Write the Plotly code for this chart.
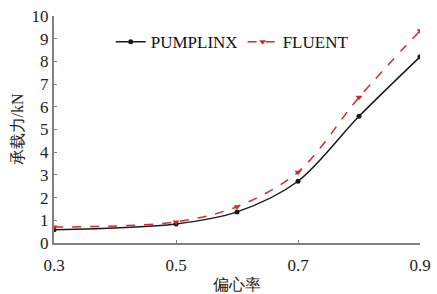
import plotly.graph_objects as go

ecc = [0.3, 0.5, 0.6, 0.7, 0.8, 0.9]
pumplinx = [0.58, 0.84, 1.37, 2.72, 5.58, 8.2]
fluent = [0.70, 0.93, 1.60, 3.12, 6.42, 9.35]
x_ticks = [0.3, 0.5, 0.7, 0.9]
y_ticks = list(range(0, 11))

font_fam = "Liberation Serif, Times New Roman, serif"

fig = go.Figure()
fig.add_trace(go.Scatter(
    x=ecc, y=pumplinx, name="PUMPLINX", mode="lines+markers",
    line=dict(color="#1a1a1a", width=1.5, shape="spline", smoothing=0.9),
    marker=dict(symbol="circle", size=5, color="#1a1a1a"),
))
fig.add_trace(go.Scatter(
    x=ecc, y=fluent, name="FLUENT", mode="lines+markers",
    line=dict(color="#e0262b", width=1.5, dash="dash", shape="spline", smoothing=0.9),
    marker=dict(symbol="triangle-down", size=6, color="#d42a2a"),
))

fig.update_layout(
    width=437, height=294,
    margin=dict(l=54, r=17, t=16, b=51),
    paper_bgcolor="white", plot_bgcolor="white",
    font=dict(family=font_fam, size=17, color="#222"),
    showlegend=True,
    legend=dict(
        orientation="h", x=0.155, y=0.885, xanchor="left", yanchor="middle",
        bgcolor="rgba(0,0,0,0)", font=dict(size=17, color="#111"),
        itemwidth=30, tracegroupgap=0,
    ),
    xaxis=dict(
        range=[0.3, 0.9], tickvals=x_ticks, ticktext=[str(v) for v in x_ticks],
        showgrid=False, zeroline=False, showline=True, linecolor="#808080", linewidth=2,
        ticks="inside", ticklen=3, tickcolor="#808080", automargin=False,
        ticklabelstandoff=6,
        title=dict(text="偏心率", font=dict(size=16), standoff=4),
    ),
    yaxis=dict(
        range=[0, 10], tickvals=y_ticks,
        showgrid=False, zeroline=False, showline=True, linecolor="#808080", linewidth=2,
        ticks="inside", ticklen=3, tickcolor="#808080", automargin=False,
        title=dict(text="承载力/kN", font=dict(size=16), standoff=4),
    ),
)

fig.write_html("out.html", config={"displayModeBar": False},
               post_script="document.body.style.margin='0px';")
